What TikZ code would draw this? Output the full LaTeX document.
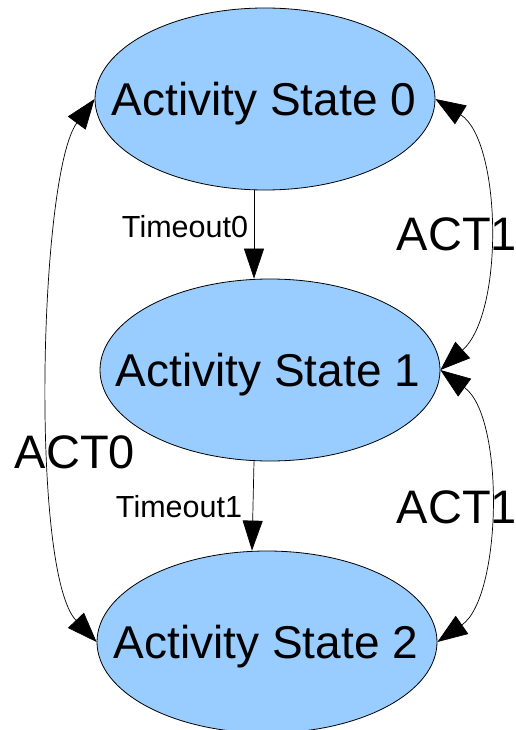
\documentclass[tikz,border=0pt]{standalone}
\usepackage{fontspec}
\setmainfont{Liberation Sans}
\usetikzlibrary{arrows.meta,calc,shapes.geometric}
\definecolor{statefill}{HTML}{99CCFF}
\tikzset{
  statenode/.style={ellipse,draw=black,line width=0.8pt,fill=statefill,minimum width=340pt,minimum height=182pt,inner sep=0pt},
  statetext/.style={inner sep=0pt,text depth=0pt,font=\fontsize{46}{50}\selectfont},
  biglabel/.style={anchor=base,inner sep=0pt,font=\fontsize{47}{50}\selectfont},
  smalllabel/.style={anchor=base,inner sep=0pt,font=\fontsize{30.5}{34}\selectfont},
  conn/.style={line width=0.7pt,-{Triangle[length=30pt,width=20pt]}},
  biconn/.style={line width=0.7pt,{Triangle[length=30pt,width=22pt]}-{Triangle[length=30pt,width=22pt]}}
}
\begin{document}
\begin{tikzpicture}[x=1pt,y=-1pt]
\useasboundingbox (0,0) rectangle (516,730);
\node[statenode] (s0) at (265,99) {};
\node[statetext] (s0t) at (264,99) {Activity State 0};
\node[statenode] (s1) at (270,370) {};
\node[statetext] (s1t) at (268,370) {Activity State 1};
\node[statenode] (s2) at (267,642) {};
\node[statetext] (s2t) at (266,642) {Activity State 2};
% timeouts
\draw[conn] ([xshift=-11pt]s0.south) -- ([xshift=-16pt]s1.north);
\draw[conn] ([xshift=-16pt]s1.south) -- ([xshift=-15pt]s2.north);
\node[smalllabel] (t0) at (185,237) {Timeout0};
\node[smalllabel] (t1) at (179,517) {Timeout1};
% ACT0
\draw[biconn] (s0.west) .. controls (39,174) and (30,572) .. (s2.west);
\node[biglabel] (a0) at (75,468) {ACT0};
% ACT1 top
\draw[biconn] (s1.east) .. controls (505,312) and (501,140) .. (s0.east);
\node[biglabel] (a1) at (457,250) {ACT1};
% ACT1 bottom
\draw[biconn] (s2.east) .. controls (502,597) and (505,417) .. (s1.east);
\node[biglabel] (a2) at (457,523) {ACT1};
\end{tikzpicture}
\end{document}
